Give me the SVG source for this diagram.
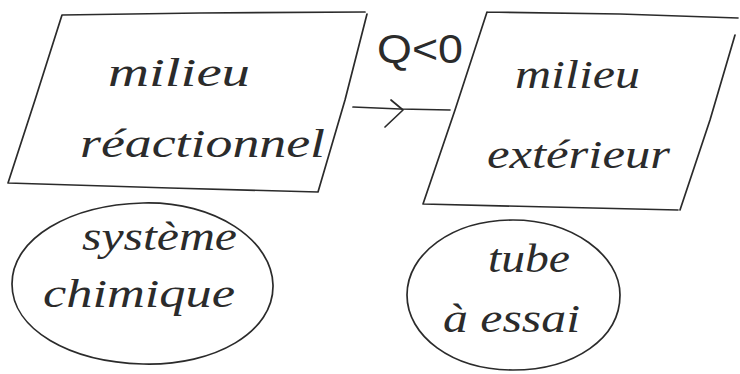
<svg xmlns="http://www.w3.org/2000/svg" width="740" height="374" viewBox="0 0 740 374">
<defs>
<style>
.shape{fill:none;stroke:#2b2b2b;stroke-width:1.7;stroke-linecap:round;stroke-linejoin:round}
.hand{font-family:"Liberation Serif","DejaVu Serif",serif;font-style:italic;fill:#2b2b2b;font-size:40px}
.q{font-family:"Liberation Sans","DejaVu Sans",sans-serif;fill:#2b2b2b;font-size:40px}
</style>
</defs>
<rect width="740" height="374" fill="#ffffff"/>
<g id="milieu-reactionnel">
<path class="shape" d="M62,15 L200,13 L365,12 M367,14 L345,100 L318,192 M318,192 L170,188 L8,183 M8,183 L35,100 L62,15"/>
<text class="hand" x="108" y="86" textLength="142" lengthAdjust="spacingAndGlyphs">milieu</text>
<text class="hand" x="80" y="157" textLength="245" lengthAdjust="spacingAndGlyphs">réactionnel</text>
</g>
<g id="milieu-exterieur">
<path class="shape" d="M487,12 L620,14 L738,18 M735,35 L710,120 L680,210 M678,210 L550,207 L423,204 M423,204 L455,110 L487,12"/>
<text class="hand" x="515" y="88" textLength="125" lengthAdjust="spacingAndGlyphs">milieu</text>
<text class="hand" x="487" y="168" textLength="183" lengthAdjust="spacingAndGlyphs">extérieur</text>
</g>
<g id="systeme-chimique">
<path class="shape" d="M143,203 C215,201 272,240 273,285 C274,332 215,366 143,364 C70,362 12,330 12,284 C12,238 70,205 143,203 Z"/>
<text class="hand" x="82" y="250" textLength="155" lengthAdjust="spacingAndGlyphs">système</text>
<text class="hand" x="43" y="307" textLength="192" lengthAdjust="spacingAndGlyphs">chimique</text>
</g>
<g id="tube-a-essai">
<path class="shape" d="M513,220 C572,220 620,255 620,295 C620,338 575,370 513,370 C452,370 407,336 407,295 C407,254 452,220 513,220 Z"/>
<text class="hand" x="488" y="272" textLength="82" lengthAdjust="spacingAndGlyphs">tube</text>
<text class="hand" x="443" y="332" textLength="137" lengthAdjust="spacingAndGlyphs">à essai</text>
</g>
<g id="connectors">
<path class="shape" d="M353,107 L400,109 L450,110"/>
<path class="shape" d="M391,100 L403,110 L385,127"/>
<text class="q" x="377" y="63" textLength="86" lengthAdjust="spacingAndGlyphs">Q&lt;0</text>
</g>
</svg>
